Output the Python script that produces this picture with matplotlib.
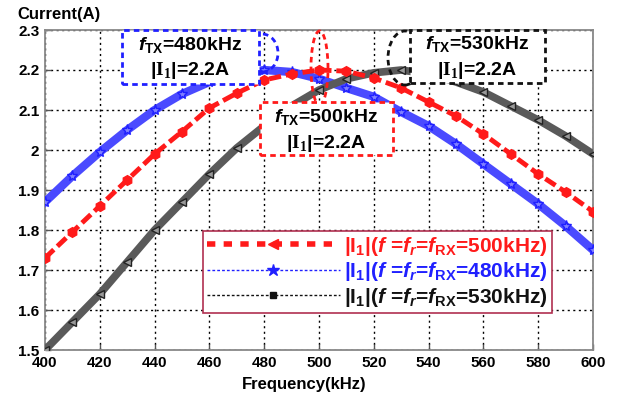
import matplotlib
matplotlib.use("Agg")
import matplotlib.pyplot as plt
from matplotlib.lines import Line2D
from matplotlib.patches import Rectangle, Ellipse

plt.rcParams['font.family'] = ['Liberation Sans', 'DejaVu Sans']
plt.rcParams['font.weight'] = 'bold'
plt.rcParams['mathtext.fontset'] = 'custom'
plt.rcParams['mathtext.rm'] = 'Liberation Sans:bold'
plt.rcParams['mathtext.bf'] = 'Liberation Sans:bold'
plt.rcParams['mathtext.it'] = 'Liberation Sans:italic:bold'
plt.rcParams['mathtext.tt'] = 'Liberation Serif:bold'

freq = [400, 410, 420, 430, 440, 450, 460, 470, 480, 490, 500,
        510, 520, 530, 540, 550, 560, 570, 580, 590, 600]
i_500 = [1.73, 1.795, 1.86, 1.925, 1.99, 2.046, 2.105, 2.142, 2.175, 2.19, 2.2,
         2.197, 2.18, 2.155, 2.12, 2.085, 2.04, 1.99, 1.94, 1.895, 1.846]
i_480 = [1.87, 1.935, 1.995, 2.05, 2.1, 2.14, 2.17, 2.19, 2.2, 2.195, 2.178,
         2.155, 2.133, 2.095, 2.06, 2.015, 1.965, 1.915, 1.865, 1.81, 1.75]
i_530 = [1.5, 1.57, 1.64, 1.72, 1.8, 1.87, 1.94, 2.005, 2.06, 2.11, 2.15,
         2.178, 2.193, 2.2, 2.19, 2.17, 2.145, 2.11, 2.075, 2.035, 1.99]

labels = [r'$|\mathrm{I}_{1}|(f$ =$f_{r}$=$f_{\mathrm{RX}}$=500kHz)',
          r'$|\mathrm{I}_{1}|(f$ =$f_{r}$=$f_{\mathrm{RX}}$=480kHz)',
          r'$|\mathrm{I}_{1}|(f$ =$f_{r}$=$f_{\mathrm{RX}}$=530kHz)']
box_freqs = ['480', '500', '530']
xticks = [400, 420, 440, 460, 480, 500, 520, 540, 560, 580, 600]
yticks = [1.5, 1.6, 1.7, 1.8, 1.9, 2.0, 2.1, 2.2, 2.3]
ytick_labels = ['1.5', '1.6', '1.7', '1.8', '1.9', '2', '2.1', '2.2', '2.3']

RED = '#ff1a1a'
BLUE = '#2020ff'
BLACK = '#111111'

fig = plt.figure(figsize=(6.23, 3.98), dpi=100)
ax = fig.add_axes([45/623, 48/398, 548/623, 320/398])

# curves: thick textured bands with markers
ax.plot(freq, i_480, color='#4a4aff', lw=6, zorder=3)
ax.plot(freq, i_480, ls='none', marker='*', ms=8, color='#8080ff', mec='#2020ff', zorder=3)
ax.plot(freq, i_530, color='#5a5a5a', lw=5.5, zorder=3)
ax.plot(freq, i_530, ls='none', marker='<', ms=6, color='#999999', mec='#222222', zorder=3)
ax.plot(freq, i_500, color=RED, lw=3.5, ls=(0, (2.5, 1)), zorder=4)
ax.plot(freq, i_500, ls='none', marker='h', ms=7, color=RED, zorder=4)

ax.set_xlim(400, 600)
ax.set_ylim(1.5, 2.3)
ax.set_xticks(xticks)
ax.set_yticks(yticks)
ax.set_yticklabels(ytick_labels)
ax.tick_params(direction='in', length=4, labelsize=11, width=1, color='#555555', pad=4)
for lab in ax.get_xticklabels() + ax.get_yticklabels():
    lab.set_fontweight('bold')
ax.grid(True, color='black', ls=(0, (1.5, 2.5)), lw=1)
for s in ax.spines.values():
    s.set_color('#888888')
    s.set_linewidth(1.3)

fig.text(17/623, 1 - 14/398, 'Current(A)', fontsize=12, fontweight='bold', va='center', ha='left')
fig.text(304/623, 1 - 384/398, 'Frequency(kHz)', fontsize=12, fontweight='bold', va='center', ha='center')

# annotation boxes (positions given in figure pixels, converted to data coords)
def px2f(px):
    return 400 + (px - 45) * 200 / 548

def py2i(py):
    return 2.3 - (py - 30) * 0.8 / 320

def box(x0, y0, x1, y1, color):
    r = Rectangle((px2f(x0), py2i(y1)), px2f(x1) - px2f(x0), py2i(y0) - py2i(y1),
                  fc='white', ec=color, lw=2, ls=(0, (2, 1.5)), zorder=6, clip_on=False)
    ax.add_patch(r)

def ell(cx, cy, w, h, color):
    e = Ellipse((px2f(cx), py2i(cy)), w * 200 / 548, h * 0.8 / 320, fc='none', ec=color,
                lw=2, ls=(0, (2, 1.5)), zorder=5, clip_on=False)
    ax.add_patch(e)

ell(262, 53, 32, 38, BLUE)
ell(319.5, 68, 17, 74, RED)
ell(405, 58, 34, 54, BLACK)
box(122, 30, 259, 84, BLUE)
box(260, 102, 393, 155, RED)
box(410, 30, 545, 83, BLACK)

for (cx, y1, y2), f in zip([(190, 45, 70), (326, 117, 143), (477, 44, 70)], box_freqs):
    ax.text(px2f(cx), py2i(y1), r'$f_{\mathrm{TX}}$=' + f + 'kHz', fontsize=14,
            fontweight='bold', ha='center', va='center', zorder=7)
    ax.text(px2f(cx), py2i(y2), r'$|\mathtt{I}_{\mathtt{1}}|$=2.2A', fontsize=14,
            fontweight='bold', ha='center', va='center', zorder=7)

handles = [
    Line2D([0, 0.85, 1], [0, 0, 0], color=RED, lw=4, ls=(0, (1.5, 1.5)), marker='<', ms=7, markevery=[1]),
    Line2D([0, 0.85, 1], [0, 0, 0], color=BLUE, lw=1, ls=(0, (2, 1.5)), marker='*', ms=9, markevery=[1]),
    Line2D([0, 0.85, 1], [0, 0, 0], color=BLACK, lw=1, ls=(0, (2, 1.5)), marker='s', ms=5, markevery=[1]),
]
leg = ax.legend(handles, labels, loc='lower right', bbox_to_anchor=(0.925, 0.116),
                borderaxespad=0, fontsize=15, handlelength=6.4, handletextpad=0.2,
                borderpad=0.2, labelspacing=0.12, fancybox=False, framealpha=1,
                edgecolor='#b03050')
leg.get_frame().set_linewidth(1.2)
leg.set_zorder(8)
for t, c in zip(leg.get_texts(), [RED, BLUE, BLACK]):
    t.set_color(c)
    t.set_fontweight('bold')

fig.savefig('out.png', dpi=100)
